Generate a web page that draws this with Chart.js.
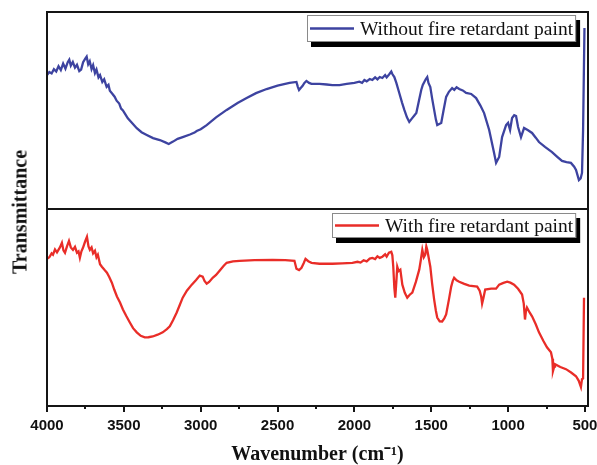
<!DOCTYPE html>
<html>
<head>
<meta charset="utf-8">
<script src="https://cdn.jsdelivr.net/npm/chart.js@4.4.1/dist/chart.umd.min.js"></script>
<style>
  html, body { margin: 0; padding: 0; background: #fff; }
  #wrap { position: relative; width: 597px; height: 465px; overflow: hidden; background: #fff; }
  #topChart { position: absolute; left: 0; top: 0; }
  #bottomChart { position: absolute; left: 0; top: 209px; }
  #ylabel {
    position: absolute; left: 20px; top: 212px;
    transform: translate(-50%, -50%) rotate(-90deg);
    font: bold 20px 'Liberation Serif', serif; white-space: nowrap; color: #111;
  }
</style>
</head>
<body>
<div id="wrap">
  <canvas id="topChart" width="597" height="210"></canvas>
  <canvas id="bottomChart" width="597" height="256"></canvas>
  <div id="ylabel">Transmittance</div>
</div>
<script>
// FTIR spectra (transmittance in arbitrary %)
const withoutWavenumber = [
  4000, 3985, 3970, 3955, 3940, 3925, 3910, 3895, 3880, 3865,
  3855, 3845, 3832, 3818, 3805, 3790, 3778, 3765, 3750, 3742,
  3732, 3722, 3710, 3700, 3688, 3678, 3665, 3655, 3640, 3628,
  3612, 3600, 3591, 3575, 3560, 3547, 3530, 3518, 3506, 3490,
  3474, 3445, 3416, 3385, 3351, 3310, 3266, 3230, 3208, 3180,
  3150, 3117, 3070, 3040, 3026, 3000, 2961, 2900, 2831, 2760,
  2701, 2640, 2571, 2500, 2422, 2377, 2368, 2360, 2348, 2338,
  2325, 2312, 2295, 2279, 2227, 2180, 2143, 2097, 2050, 2000,
  1968, 1950, 1935, 1920, 1900, 1883, 1865, 1850, 1835, 1818,
  1800, 1790, 1773, 1760, 1753, 1740, 1727, 1708, 1690, 1675,
  1658, 1643, 1625, 1610, 1597, 1580, 1565, 1555, 1545, 1535,
  1526, 1518, 1506, 1494, 1481, 1470, 1461, 1448, 1435, 1420,
  1403, 1385, 1364, 1350, 1335, 1318, 1295, 1273, 1240, 1208,
  1180, 1156, 1123, 1091, 1078, 1058, 1039, 1013, 1000, 987,
  974, 960, 948, 935, 916, 896, 870, 844, 820, 799,
  760, 714, 680, 649, 620, 591, 570, 558, 539, 528,
  519, 512, 503
]
const withoutTransmittance = [
  68.0, 69.5, 68.8, 71.0, 69.8, 72.5, 70.5, 73.8, 71.2, 74.5,
  75.8, 72.8, 74.6, 71.8, 73.2, 70.0, 70.8, 74.5, 76.5, 77.4,
  73.5, 75.0, 71.0, 73.0, 69.0, 70.8, 66.8, 68.0, 64.5, 65.8,
  62.0, 63.0, 60.0, 58.5, 57.0, 55.0, 53.5, 51.0, 50.0, 48.0,
  46.0, 43.5, 41.0, 39.0, 37.6, 36.0, 35.0, 33.8, 33.0, 34.2,
  35.6, 36.5, 37.8, 38.8, 39.6, 40.5, 42.6, 46.5, 50.3, 53.8,
  56.3, 58.8, 60.9, 62.6, 64.0, 64.5, 62.0, 60.4, 61.5, 62.4,
  64.0, 65.0, 64.0, 63.5, 63.5, 63.2, 62.9, 62.9, 63.5, 64.0,
  64.6, 64.0, 65.5, 64.8, 66.0, 65.5, 66.8, 65.8, 67.0, 66.5,
  68.0, 66.8, 68.4, 69.8, 68.5, 67.0, 64.0, 58.9, 54.0, 50.3,
  46.5, 44.2, 46.0, 47.5, 48.7, 55.0, 60.4, 63.0, 64.5, 66.0,
  67.0, 64.0, 61.9, 56.0, 50.3, 45.5, 42.6, 43.2, 43.7, 50.0,
  56.9, 59.5, 61.4, 60.5, 61.8, 60.9, 60.2, 58.9, 58.4, 56.3,
  52.5, 48.7, 40.1, 28.4, 23.4, 26.4, 36.5, 42.6, 43.7, 40.1,
  46.2, 47.6, 47.2, 41.6, 36.5, 41.1, 40.0, 38.6, 36.2, 34.0,
  31.5, 28.9, 26.5, 24.4, 23.8, 23.4, 21.5, 19.8, 14.7, 15.5,
  18.3, 40.0, 91.9
]

const withWavenumber = [
  4000, 3985, 3970, 3961, 3948, 3935, 3916, 3903, 3893, 3883,
  3870, 3857, 3845, 3831, 3818, 3805, 3795, 3786, 3776, 3766,
  3752, 3740, 3730, 3721, 3710, 3700, 3688, 3678, 3669, 3655,
  3643, 3625, 3610, 3595, 3578, 3562, 3545, 3525, 3506, 3485,
  3461, 3440, 3416, 3390, 3364, 3340, 3312, 3280, 3247, 3220,
  3201, 3180, 3156, 3135, 3117, 3090, 3058, 3030, 3006, 2987,
  2975, 2961, 2945, 2922, 2900, 2877, 2850, 2831, 2790, 2747,
  2650, 2532, 2450, 2390, 2377, 2360, 2344, 2330, 2318, 2300,
  2279, 2227, 2143, 2080, 2013, 1980, 1960, 1940, 1920, 1900,
  1883, 1865, 1850, 1835, 1818, 1800, 1790, 1775, 1760, 1753,
  1747, 1740, 1734, 1728, 1721, 1712, 1701, 1688, 1672, 1656,
  1640, 1623, 1600, 1578, 1568, 1558, 1548, 1539, 1532, 1526,
  1516, 1506, 1494, 1481, 1470, 1461, 1445, 1429, 1415, 1403,
  1385, 1370, 1360, 1351, 1335, 1318, 1285, 1253, 1201, 1185,
  1175, 1169, 1160, 1149, 1110, 1078, 1058, 1030, 1006, 985,
  961, 935, 909, 898, 890, 884, 877, 860, 844, 820,
  799, 770, 747, 721, 712, 708, 700, 695, 660, 623,
  590, 558, 540, 526, 519, 512, 506
]
const withTransmittance = [
  74.7, 75.5, 77.5, 76.8, 79.5, 78.0, 80.5, 82.8, 79.0, 77.8,
  81.0, 83.8, 80.5, 79.3, 80.8, 77.8, 78.5, 75.2, 78.5, 80.3,
  83.5, 85.9, 81.0, 79.3, 80.5, 77.5, 78.8, 75.5, 76.8, 72.0,
  70.7, 69.0, 67.7, 65.5, 62.6, 59.0, 55.6, 52.5, 49.0, 45.8,
  42.4, 39.5, 37.4, 35.6, 34.8, 34.9, 35.3, 36.2, 37.4, 39.0,
  40.4, 43.5, 47.5, 51.5, 55.0, 58.5, 61.6, 64.0, 66.2, 65.7,
  63.5, 62.1, 63.0, 65.1, 66.5, 68.7, 71.2, 72.7, 73.4, 73.7,
  74.0, 74.2, 74.0, 73.7, 69.7, 69.0, 70.2, 72.5, 74.7, 73.5,
  72.7, 72.2, 72.2, 72.4, 72.7, 73.2, 72.8, 74.0, 73.4, 74.8,
  75.2, 74.6, 76.0, 75.2, 75.8, 77.0, 75.8, 77.8, 78.3, 76.5,
  70.7, 60.0, 55.0, 62.0, 70.7, 68.5, 69.2, 61.6, 57.5, 55.0,
  56.5, 57.6, 63.0, 69.2, 74.0, 79.3, 75.5, 76.8, 81.0, 79.3,
  75.0, 70.7, 62.0, 54.0, 48.5, 44.9, 43.0, 42.9, 44.5, 46.5,
  54.0, 60.6, 63.5, 65.1, 63.8, 63.1, 62.0, 61.1, 60.6, 58.5,
  55.6, 52.0, 55.0, 59.1, 59.6, 59.6, 61.6, 62.5, 63.1, 62.6,
  61.6, 59.5, 56.6, 52.0, 43.9, 48.0, 50.0, 47.5, 45.5, 41.5,
  37.4, 33.0, 29.8, 27.3, 24.0, 17.7, 20.0, 21.2, 19.8, 18.7,
  17.0, 15.1, 12.8, 9.6, 13.6, 14.0, 55.0
]

const xTickValues = [500, 750, 1000, 1250, 1500, 1750, 2000, 2250, 2500, 2750, 3000, 3250, 3500, 3750, 4000]
const xLeft = 4000
const xRight = 480

const BLUE = 'rgb(61, 67, 160)'
const RED = 'rgb(233, 45, 40)'

const toPoints = (xs, ys) => xs.map((x, i) => ({ x, y: ys[i] }))

// black box around each panel
const framePlugin = {
  id: 'frame',
  afterDatasetsDraw(chart) {
    const { ctx, chartArea: a } = chart
    ctx.save()
    ctx.strokeStyle = '#151515'
    ctx.lineWidth = 2
    ctx.strokeRect(a.left, a.top, a.right - a.left, a.bottom - a.top)
    ctx.restore()
  }
}

// outward tick marks, long on the labelled ones
const tickMarksPlugin = {
  id: 'tickMarks',
  afterDatasetsDraw(chart) {
    const { ctx, chartArea: a, scales } = chart
    ctx.save()
    ctx.strokeStyle = '#151515'
    ctx.lineWidth = 2
    ctx.beginPath()
    xTickValues.forEach((v) => {
      const px = Math.round(scales.x.getPixelForValue(v))
      const len = v % 500 === 0 ? 6 : 3
      ctx.moveTo(px, a.bottom)
      ctx.lineTo(px, a.bottom + len)
    })
    ctx.stroke()
    ctx.restore()
  }
}

// legend box with drop shadow in the upper right corner
const boxLegendPlugin = {
  id: 'boxLegend',
  afterDraw(chart, args, opts) {
    const ds = chart.data.datasets[0]
    const { ctx, chartArea: a } = chart
    ctx.save()
    ctx.font = '19.5px "Liberation Serif", serif'
    const tw = ctx.measureText(ds.label).width
    const w = tw + 56
    const h = opts.height
    const x = Math.round(a.right - 12 - w)
    const y = a.top + opts.top
    ctx.fillStyle = '#000'
    ctx.fillRect(x + 4, y + 5, w, h)
    ctx.fillStyle = '#fff'
    ctx.fillRect(x, y, w, h)
    ctx.strokeStyle = '#8a8a8a'
    ctx.lineWidth = 1
    ctx.strokeRect(x + 0.5, y + 0.5, w - 1, h - 1)
    ctx.strokeStyle = ds.borderColor
    ctx.lineWidth = 2.5
    ctx.beginPath()
    ctx.moveTo(x + 3, y + h / 2)
    ctx.lineTo(x + 47, y + h / 2)
    ctx.stroke()
    ctx.fillStyle = '#111'
    ctx.textBaseline = 'middle'
    ctx.fillText(ds.label, x + 53, y + h / 2 + 1)
    ctx.restore()
  }
}

function xScale(show) {
  return {
    type: 'linear',
    min: xRight,
    max: xLeft,
    reverse: true,
    display: show,
    afterBuildTicks: (scale) => {
      scale.ticks = xTickValues.map((v) => ({ value: v }))
    },
    afterFit: (scale) => {
      if (show) scale.height = 59
    },
    grid: { display: false, drawTicks: false },
    border: { display: false },
    ticks: {
      autoSkip: false,
      maxRotation: 0,
      padding: 11,
      color: '#111',
      font: { family: 'Liberation Sans', size: 15, weight: 'bold' },
      callback: (v) => (v % 500 === 0 ? String(v) : '')
    },
    title: {
      display: show,
      text: 'Wavenumber (cm⁻¹)',
      color: '#111',
      font: { family: 'Liberation Serif', size: 20, weight: 'bold', lineHeight: 1 },
      padding: { top: 0, bottom: 0 }
    }
  }
}

function panel(canvasId, label, xs, ys, color, showAxis, legendTop, legendHeight) {
  return new Chart(document.getElementById(canvasId), {
    type: 'line',
    data: {
      datasets: [{
        label,
        data: toPoints(xs, ys),
        borderColor: color,
        borderWidth: 2.3,
        pointRadius: 0,
        tension: 0,
        fill: false
      }]
    },
    options: {
      responsive: false,
      animation: false,
      events: [],
      layout: { padding: { left: 47, right: 9, top: showAxis ? 0 : 12, bottom: showAxis ? 0 : 1 } },
      plugins: {
        legend: { display: false },
        tooltip: { enabled: false },
        boxLegend: { top: legendTop, height: legendHeight }
      },
      scales: {
        x: xScale(showAxis),
        y: { min: 0, max: 100, display: false }
      }
    },
    plugins: showAxis ? [framePlugin, tickMarksPlugin, boxLegendPlugin] : [framePlugin, boxLegendPlugin]
  })
}

panel('topChart', 'Without fire retardant paint', withoutWavenumber, withoutTransmittance, BLUE, false, 3, 27)
panel('bottomChart', 'With fire retardant paint', withWavenumber, withTransmittance, RED, true, 4, 25)
</script>
</body>
</html>
